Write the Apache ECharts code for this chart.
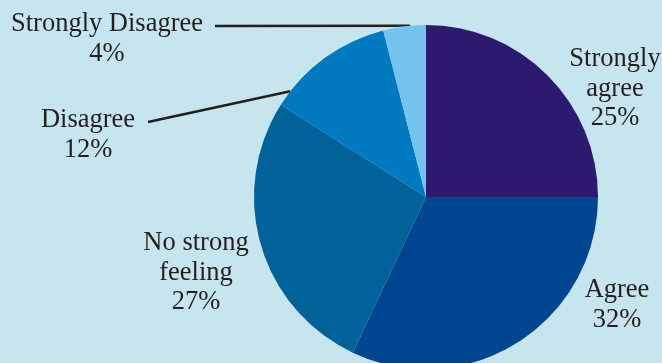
<!DOCTYPE html>
<html>
<head>
<meta charset="utf-8">
<script src="https://cdn.jsdelivr.net/npm/echarts@6/dist/echarts.min.js"></script>
<style>
  html, body { margin: 0; padding: 0; background: #c6e5ee; }
  #chart { width: 662px; height: 363px; }
</style>
</head>
<body>
<div id="chart"></div>
<script>
// Survey responses, clockwise from 12 o'clock
const categories = ['Strongly\nagree', 'Agree', 'No strong\nfeeling', 'Disagree', 'Strongly Disagree'];
const shares = [25, 32, 27, 12, 4];
const sliceColors = ['#2c1a6e', '#004590', '#01629a', '#0079c0', '#74c3ee'];

// Pie geometry (px)
const CX = 426, CY = 197, R = 172;

// Where each label sits (centre of the text block) and, for the two
// leader-line labels, the angle (deg clockwise from 12 o'clock) on the rim
// the line runs to plus where the line starts beside the text.
const labelSpots = [
  { x: 615, y: 89 },
  { x: 617, y: 305 },
  { x: 196, y: 273 },
  { x: 88, y: 135, rimAngle: 307.9, from: [148, 122] },
  { x: 107, y: 39, rimAngle: 354.7, from: [215, 26] }
];

function rimPoint(deg) {
  const a = deg * Math.PI / 180;
  return [CX + R * Math.sin(a), CY - R * Math.cos(a)];
}

const chart = echarts.init(document.getElementById('chart'), null, { renderer: 'canvas' });

chart.setOption({
  backgroundColor: '#c6e5ee',
  animation: false,
  series: [{
    type: 'pie',
    center: [CX, CY],
    radius: R,
    startAngle: 90,
    clockwise: true,
    avoidLabelOverlap: false,
    silent: true,
    data: categories.map((name, i) => ({
      name: name,
      value: shares[i],
      itemStyle: { color: sliceColors[i] },
      labelLine: { show: labelSpots[i].rimAngle != null }
    })),
    itemStyle: { borderWidth: 0 },
    label: {
      show: true,
      position: 'outside',
      formatter: p => p.name + '\n' + p.value + '%',
      fontFamily: 'Liberation Serif',
      fontSize: 26.5,
      lineHeight: 29.5,
      color: '#231f20',
      align: 'center'
    },
    labelLine: {
      show: false,
      length: 10,
      length2: 10,
      lineStyle: { color: '#231f20', width: 2.5 }
    },
    labelLayout: function (params) {
      const s = labelSpots[params.dataIndex];
      const out = { x: s.x, y: s.y, align: 'center', verticalAlign: 'middle' };
      if (s.rimAngle != null) {
        out.labelLinePoints = [s.from, rimPoint(s.rimAngle)];
      }
      return out;
    }
  }]
});
</script>
</body>
</html>
